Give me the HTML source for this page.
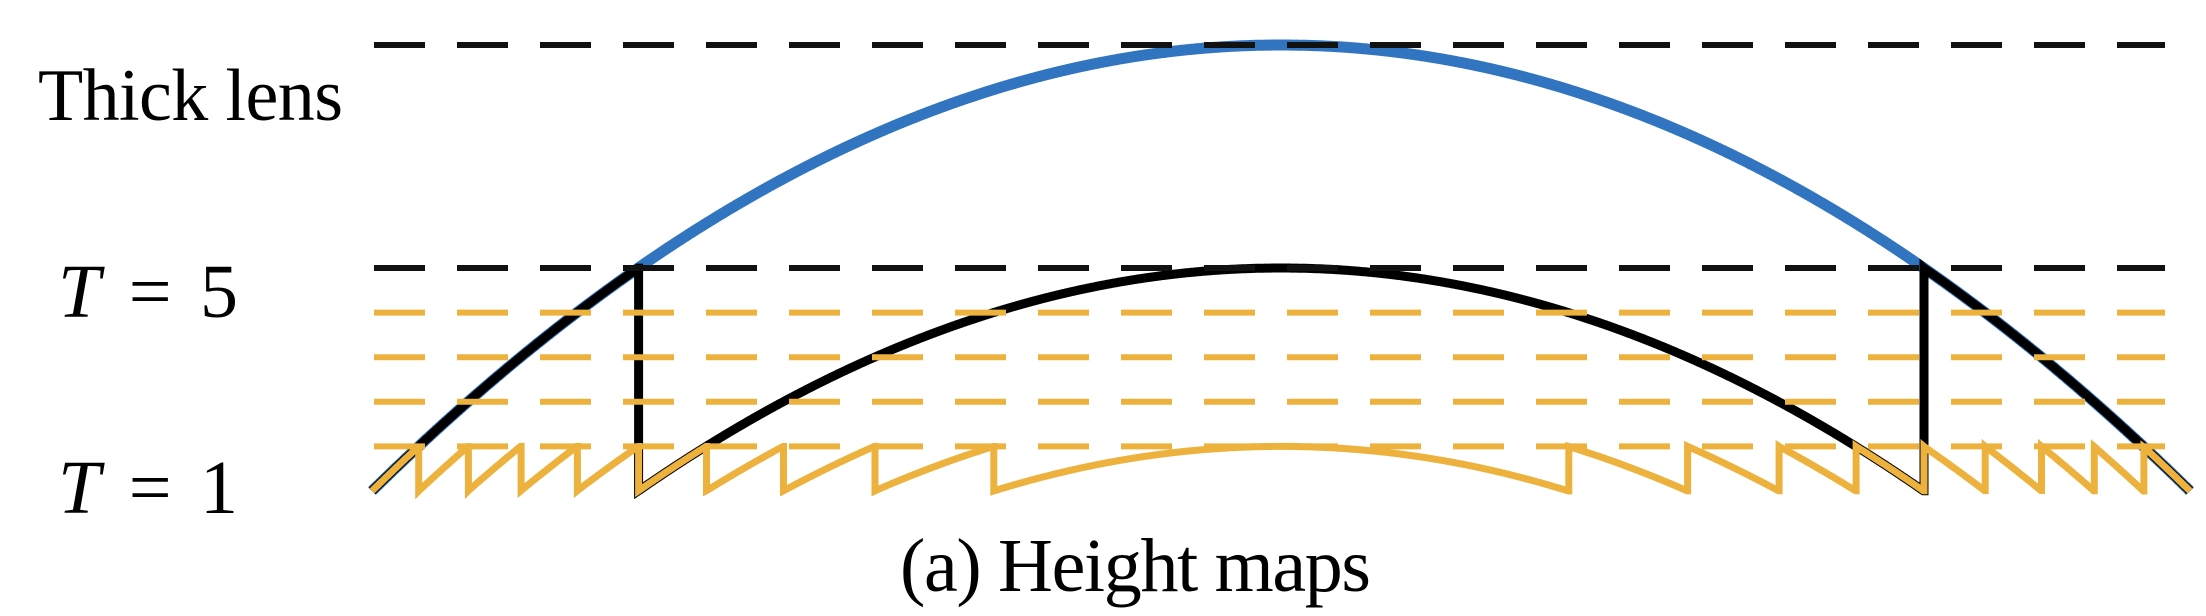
<!DOCTYPE html>
<html><head><meta charset="utf-8"><style>
html,body{margin:0;padding:0;background:#fff;}
svg{display:block;}
text{font-family:"Liberation Serif",serif;fill:#000;}
</style></head><body>
<svg id="chart" width="2206" height="616" viewBox="0 0 2206 616" xmlns="http://www.w3.org/2000/svg">
<g id="curves"></g>
<g id="guides"></g>
<text x="38" y="120" font-size="74" textLength="305" lengthAdjust="spacing">Thick lens</text>
<text x="58" y="317" font-size="76" textLength="180" lengthAdjust="spacing"><tspan font-style="italic">T</tspan> = 5</text>
<text x="58" y="513" font-size="76" textLength="180" lengthAdjust="spacing"><tspan font-style="italic">T</tspan> = 1</text>
<text x="900" y="591" font-size="76" textLength="471" lengthAdjust="spacing">(a) Height maps</text>
</svg>
<script>
// data: normalized lens height profile and wrap periods
const lensPeak = [1.0];
const wrapPeriods = [0.5, 0.1];           // T=5, T=1
const guideLevelsBlack = [1.0, 0.5];
const guideLevelsOrange = [0.4, 0.3, 0.2, 0.1];
const xDomain = [-1, 1];

const X0 = 372, X1 = 2190, Y0 = 491, Y1 = 45;
const xs = v => X0 + (v - xDomain[0]) / (xDomain[1] - xDomain[0]) * (X1 - X0);
const ys = h => Y0 - h / lensPeak[0] * (Y0 - Y1);
const NS = 'http://www.w3.org/2000/svg';
const curves = document.getElementById('curves');
const guides = document.getElementById('guides');

function lens(u){ return lensPeak[0] * (1 - u*u); }
function wrapped(h, p){ if (h <= 0) return 0; let r = h - Math.floor(h/p - 1e-9)*p; return r; }

function pathFor(fn){
  const pts = []; const N = 3000;
  let prev = null;
  for (let i = 0; i <= N; i++){
    const u = xDomain[0] + (xDomain[1]-xDomain[0]) * i / N;
    const h = fn(u);
    if (prev !== null && Math.abs(h - prev.h) > 0.03){
      pts.push([xs(u), ys(prev.h)]);
    }
    pts.push([xs(u), ys(h)]);
    prev = {h};
  }
  return 'M' + pts.map(p => p[0].toFixed(1) + ',' + p[1].toFixed(1)).join('L');
}

function addPath(d, color, w, name){
  const p = document.createElementNS(NS, 'path');
  p.setAttribute('d', d); p.setAttribute('fill', 'none');
  p.setAttribute('stroke', color); p.setAttribute('stroke-width', w);
  p.setAttribute('stroke-linejoin', 'miter');
  
  
  curves.appendChild(p);
}
addPath(pathFor(u => lens(u)), '#3174bf', 11, 'thick-lens-curve');
addPath(pathFor(u => wrapped(lens(u), wrapPeriods[0])), '#000', 9, 't5-curve');
addPath(pathFor(u => wrapped(lens(u), wrapPeriods[1])), '#ecb23d', 7, 't1-curve');

function addGuide(level, color, name){
  const l = document.createElementNS(NS, 'line');
  l.setAttribute('x1', 374); l.setAttribute('x2', 2165);
  l.setAttribute('y1', ys(level)); l.setAttribute('y2', ys(level));
  l.setAttribute('stroke', color); l.setAttribute('stroke-width', 6);
  l.setAttribute('stroke-dasharray', '51 32');
  
  
  guides.appendChild(l);
}
guideLevelsOrange.forEach(v => addGuide(v, '#ecb23d', 'orange-guide-line'));
guideLevelsBlack.forEach(v => addGuide(v, '#111', 'black-guide-line'));
</script>
</body></html>
